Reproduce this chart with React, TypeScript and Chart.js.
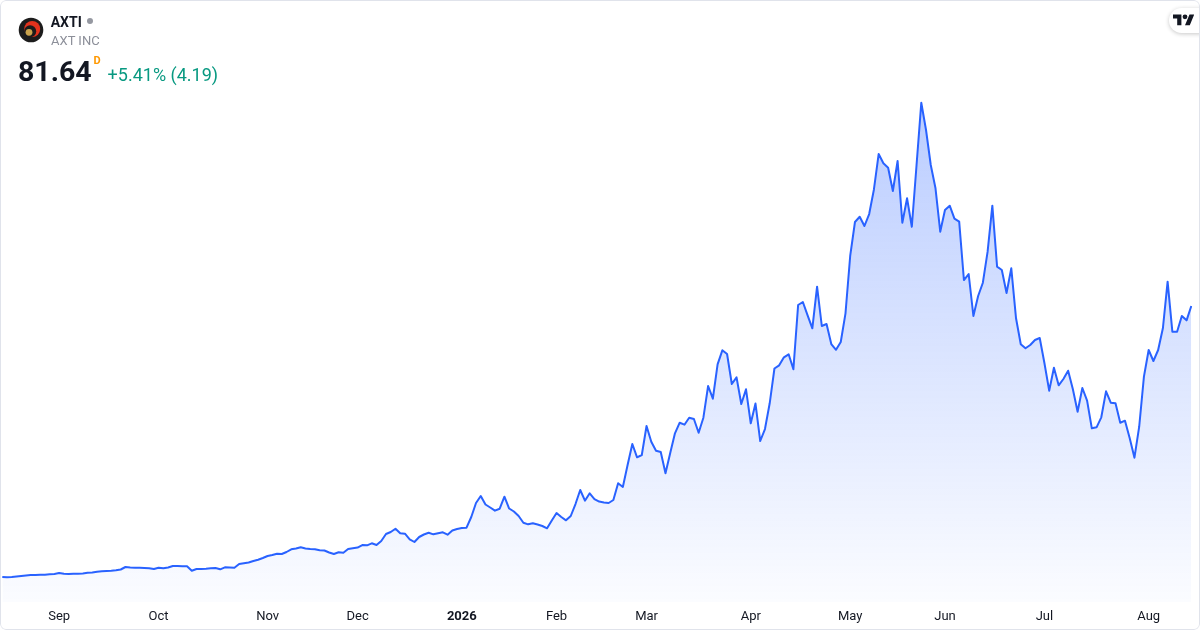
import React, { useEffect, useRef } from "react";
import { Chart, registerables } from "chart.js";

Chart.register(...registerables);

// Daily closes, AXTI, mid-Aug 2025 -> mid-Aug 2026 (one value per trading session)
const closes: number[] = [
  2.51, 2.42, 2.51, 2.65, 2.8, 2.95, 3.09, 3.09, 3.18, 3.15,
  3.3, 3.38, 3.68, 3.44, 3.38, 3.44, 3.47, 3.53, 3.73, 3.82,
  4.06, 4.2, 4.26, 4.35, 4.49, 4.7, 5.43, 5.25, 5.19, 5.19,
  5.14, 5.08, 4.84, 5.22, 5.05, 5.28, 5.72, 5.72, 5.66, 5.63,
  4.35, 4.84, 4.84, 4.9, 5.05, 5.14, 4.75, 5.34, 5.28, 5.22,
  6.3, 6.51, 6.74, 7.18, 7.56, 8.05, 8.64, 8.93, 9.31, 9.22,
  9.81, 10.6, 10.83, 11.18, 10.83, 10.68, 10.6, 10.3, 10.25, 9.66,
  9.22, 9.72, 9.6, 10.68, 10.89, 11.12, 11.85, 11.76, 12.35, 11.85,
  13.02, 15.06, 15.65, 16.61, 15.27, 15.15, 13.51, 12.73, 14.19, 14.92,
  15.44, 14.97, 15.27, 15.56, 14.86, 16.08, 16.52, 16.81, 16.9, 20.03,
  24.11, 26.16, 23.68, 22.8, 21.87, 22.45, 25.95, 22.51, 21.63, 20.32,
  18.36, 17.89, 18.19, 17.84, 17.4, 16.73, 19.0, 21.19, 20.03, 19.06,
  20.32, 23.82, 27.91, 24.79, 26.95, 25.28, 24.55, 24.26, 24.11, 24.99,
  29.87, 28.79, 35.21, 41.34, 37.46, 38.13, 46.6, 42.01, 39.39, 39.01,
  32.79, 38.71, 44.47, 47.56, 46.98, 49.02, 48.64, 44.64, 49.02, 58.28,
  54.57, 64.61, 68.7, 67.62, 58.86, 60.82, 53.02, 57.31, 47.39, 53.17,
  42.22, 45.72, 53.23, 63.39, 64.32, 66.66, 67.54, 63.15, 81.93, 82.81,
  78.92, 75.13, 87.27, 75.8, 76.38, 70.54, 68.85, 71.13, 79.51, 96.38,
  106.17, 107.71, 105.0, 108.5, 115.66, 126.02, 123.31, 122.02, 115.22, 123.98,
  105.96, 113.09, 104.79, 122.81, 141.0, 133.03, 122.81, 116.01, 103.34, 109.67,
  110.93, 107.13, 106.26, 89.23, 90.98, 78.72, 84.56, 88.44, 97.5, 110.93,
  93.12, 92.15, 85.44, 92.65, 78.05, 70.46, 69.29, 70.25, 71.71, 72.3,
  64.91, 56.91, 63.62, 58.48, 60.32, 62.75, 57.31, 50.77, 57.69, 53.99,
  45.93, 46.22, 49.14, 56.73, 53.4, 53.23, 47.56, 48.15, 43.01, 37.34,
  46.39, 61.0, 68.79, 65.58, 68.79, 75.13, 88.74, 74.14, 74.14, 78.72,
  77.45, 81.64,
];

// Session index of the first trading day of each month, and its label
const monthTickIndex: number[] = [12, 33, 56, 75, 97, 117, 136, 158, 179, 199, 220, 242];
const monthTickLabels: string[] = ["Sep", "Oct", "Nov", "Dec", "2026", "Feb", "Mar", "Apr", "May", "Jun", "Jul", "Aug"];

const sessions: string[] = closes.map((_, i) => String(i));

const symbol = "AXTI";
const company = "AXT INC";
const lastPrice = "81.64";
const change = "+5.41% (4.19)";

const Y_MIN = -4.79;
const Y_MAX = 165.15;

const FONT = "Roboto, 'Noto Sans', sans-serif";

export default function App() {
  const canvasRef = useRef<HTMLCanvasElement | null>(null);

  useEffect(() => {
    const canvas = canvasRef.current;
    if (!canvas) return;
    const maxClose = Math.max(...closes);
    const chart = new Chart(canvas, {
      type: "line",
      data: {
        labels: sessions,
        datasets: [
          {
            data: closes,
            borderColor: "#2962ff",
            borderWidth: 2,
            pointRadius: 0,
            pointHoverRadius: 0,
            tension: 0,
            borderJoinStyle: "round",
            fill: "start",
            backgroundColor: (context: any) => {
              const c = context.chart;
              const { ctx, chartArea, scales } = c;
              if (!chartArea || !scales.y) return "rgba(41,98,255,0.15)";
              const top = scales.y.getPixelForValue(maxClose);
              const g = ctx.createLinearGradient(0, top, 0, chartArea.bottom);
              g.addColorStop(0, "rgba(41,98,255,0.32)");
              g.addColorStop(1, "rgba(41,98,255,0.02)");
              return g;
            },
          },
        ],
      },
      options: {
        animation: false,
        responsive: true,
        maintainAspectRatio: false,
        layout: { padding: { left: 2.3, right: 8.7, top: 20, bottom: 0 } },
        plugins: {
          legend: { display: false },
          tooltip: { enabled: false },
        },
        events: [],
        scales: {
          x: {
            type: "category",
            offset: false,
            grid: { display: false, drawTicks: false },
            border: { display: false },
            afterFit: (scale: any) => {
              scale.height = 28;
            },
            ticks: {
              autoSkip: false,
              maxRotation: 0,
              minRotation: 0,
              padding: 0,
              color: "#131722",
              font: (ctx: any) => {
                const k = monthTickIndex.indexOf(ctx.index);
                const bold = k >= 0 && monthTickLabels[k] === "2026";
                return { family: FONT, size: 13, lineHeight: 30 / 13, weight: bold ? "bold" : "normal" };
              },
              callback: (_v: any, index: number) => {
                const k = monthTickIndex.indexOf(index);
                return k >= 0 ? monthTickLabels[k] : "";
              },
            },
          },
          y: {
            display: false,
            min: Y_MIN,
            max: Y_MAX,
          },
        },
      },
    });
    return () => chart.destroy();
  }, []);

  return (
    <div
      style={{
        position: "absolute",
        left: 0,
        top: 0,
        width: 1200,
        height: 630,
        overflow: "hidden",
        background: "#ffffff",
        borderRadius: 6,
        fontFamily: FONT,
      }}
    >
      <div style={{ position: "absolute", left: 0, top: 0, width: 1200, height: 630 }}>
        <canvas ref={canvasRef} />
      </div>

      {/* company logo */}
      <svg
        width={26}
        height={26}
        viewBox="0 0 26 26"
        style={{ position: "absolute", left: 17.5, top: 16.8 }}
      >
        <circle cx={13} cy={13} r={12.3} fill="#1c1c1c" />
        <circle cx={14.2} cy={12} r={8} fill="#e2321d" />
        <circle cx={12.2} cy={14.2} r={6} fill="#1c1c1c" />
        <circle cx={11} cy={15.3} r={3.4} fill="#c9a24c" />
      </svg>

      <div
        style={{
          position: "absolute",
          left: 50.7,
          top: 15,
          fontSize: 14,
          lineHeight: 1,
          fontWeight: 700,
          color: "#131722",
          whiteSpace: "nowrap",
        }}
      >
        {symbol}
      </div>
      <div
        style={{
          position: "absolute",
          left: 87.3,
          top: 18.2,
          width: 6,
          height: 6,
          borderRadius: 3,
          background: "#9598a1",
        }}
      />
      <div
        style={{
          position: "absolute",
          left: 51,
          top: 34,
          fontSize: 13,
          lineHeight: 1,
          color: "#8c8f99",
          whiteSpace: "nowrap",
        }}
      >
        {company}
      </div>
      <div
        style={{
          position: "absolute",
          left: 18,
          top: 57.5,
          fontSize: 28.5,
          lineHeight: 1,
          fontWeight: 700,
          color: "#131722",
          whiteSpace: "nowrap",
        }}
      >
        {lastPrice}
      </div>
      <div
        style={{
          position: "absolute",
          left: 93.5,
          top: 55,
          fontSize: 11,
          lineHeight: 1,
          fontWeight: 700,
          color: "#ff9800",
        }}
      >
        D
      </div>
      <div
        style={{
          position: "absolute",
          left: 107.6,
          top: 65.5,
          fontSize: 18,
          lineHeight: 1,
          color: "#089981",
          whiteSpace: "nowrap",
        }}
      >
        {change}
      </div>

      {/* TradingView badge */}
      <div
        style={{
          position: "absolute",
          left: 1169,
          top: 8,
          width: 44,
          height: 25,
          borderRadius: 12.5,
          background: "#ffffff",
          boxShadow: "0 1px 4px rgba(0,0,0,0.22)",
        }}
      />
      <svg
        width={21}
        height={16.8}
        viewBox="0 0 35 28"
        style={{ position: "absolute", left: 1173, top: 12.4 }}
      >
        <path d="M14 22H7V11H0V4h14v18zM28 22h-8l7.5-18h8L28 22z" fill="#131722" />
        <circle cx={20} cy={8} r={4} fill="#131722" />
      </svg>

      <div
        style={{
          position: "absolute",
          left: 0,
          top: 0,
          width: 1200,
          height: 630,
          boxSizing: "border-box",
          border: "1px solid #e0e3eb",
          borderRadius: 6,
          pointerEvents: "none",
        }}
      />
    </div>
  );
}
